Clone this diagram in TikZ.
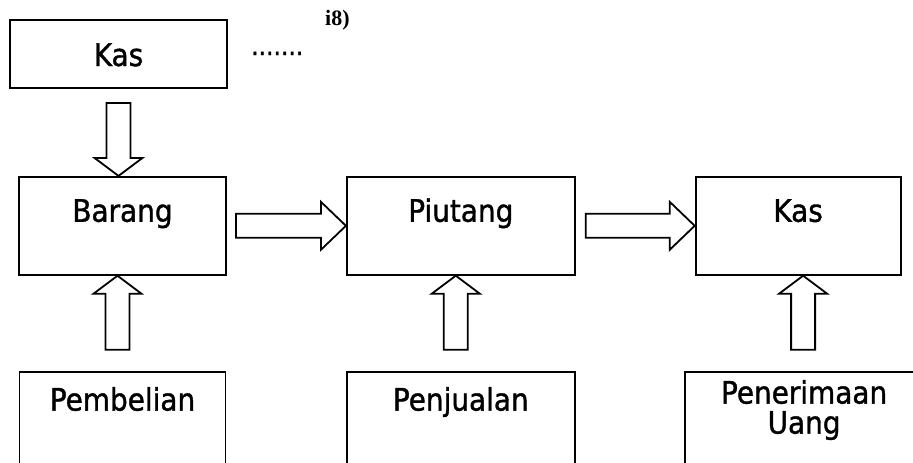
\documentclass[tikz,border=0pt]{standalone}
\usepackage{fontspec}
\setmainfont{DejaVu Sans}[FakeStretch=0.9]
\newfontfamily\boxfont{DejaVu Sans}[FakeStretch=0.9,FakeBold=1.2]
\newfontfamily\notefont{Liberation Serif}
\usetikzlibrary{positioning,calc}

\begin{document}
\begin{tikzpicture}[
    x=1pt, y=-1pt,
    box/.style={rectangle,draw,line width=1.8pt,inner sep=0pt,align=center,font=\boxfont\fontsize{31}{30}\selectfont},
    toprow/.style={box,text height=45pt,text depth=53pt},
    botrow/.style={box,text height=39pt,text depth=81pt},
    bapt/.style={shift={(\tikztostart)},rotate=\n1},
    blockarrow/.style={draw,line width=1.8pt,line join=miter,to path={
        let \p1=($(\tikztotarget)-(\tikztostart)$),
            \n1={atan2(\y1,\x1)}, \n2={veclen(\x1,\y1)} in
        ([bapt]0,-12) -- ([bapt]{\n2-#1},-12) -- ([bapt]{\n2-#1},-24)
        -- ([bapt]\n2,0) -- ([bapt]{\n2-#1},24) -- ([bapt]{\n2-#1},12)
        -- ([bapt]0,12) -- cycle}},
    blockarrow/.default=20
]
    \path[use as bounding box,clip] (0,0) rectangle (913,463);

    % source of cash
    \node[box,minimum width=217pt,text height=46pt,text depth=22pt] (kasA) at (118.5,54) {Kas};
    \node[font=\boxfont\fontsize{26}{28}\selectfont,anchor=base west,inner sep=0pt] (dots) at (251,55) {.......};
    \node[font=\notefont\bfseries\fontsize{22}{24}\selectfont,anchor=base west,inner sep=0pt] (note) at (325,25) {i8)};

    % top row
    \node[toprow,minimum width=207pt,below=87pt of kasA,xshift=4pt] (barang) {Barang};
    \node[toprow,minimum width=228pt,right=119pt of barang] (piutang) {Piutang};
    \node[toprow,minimum width=205pt,right=119pt of piutang] (kasB) {Kas};

    % bottom row
    \node[botrow,minimum width=206pt,below=95pt of barang] (pembelian) {Pembelian};
    \node[botrow,minimum width=228pt,below=95pt of piutang] (penjualan) {Penjualan};
    \node[box,minimum width=239pt,text height=62pt,text depth=58pt,below=95pt of kasB,xshift=6pt] (penerimaan) {Penerimaan\\Uang};

    % block arrows
    \draw[blockarrow=18] ([yshift=-14pt]kasA.south) to (kasA.south |- barang.north);
    \draw[blockarrow=25] ([xshift=9pt]barang.east) to (barang.east -| piutang.west);
    \draw[blockarrow=25] ([xshift=10pt]piutang.east) to (piutang.east -| kasB.west);
    \draw[blockarrow=18] ([xshift=-5pt,yshift=21pt]pembelian.north) to ([xshift=-5pt]barang.south);
    \draw[blockarrow=18] ([xshift=-5pt,yshift=21pt]penjualan.north) to ([xshift=-5pt]piutang.south);
    \draw[blockarrow=18] ([xshift=-1pt,yshift=21pt]penerimaan.north) to ([xshift=5pt]kasB.south);
\end{tikzpicture}
\end{document}
